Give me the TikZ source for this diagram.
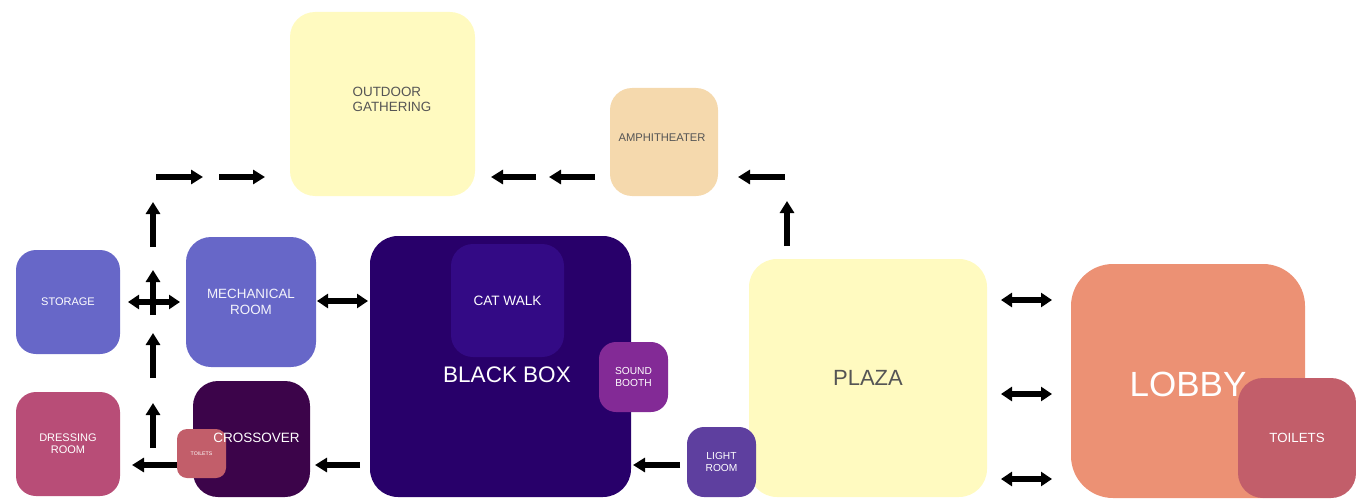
\documentclass[tikz,border=0pt]{standalone}
\usepackage{fontspec}
\setmainfont{Liberation Sans}
\usetikzlibrary{arrows.meta}
\definecolor{cYellow}{HTML}{FFFAC0}
\definecolor{cAmph}{HTML}{F5D9AD}
\definecolor{cMech}{HTML}{6767C8}
\definecolor{cDress}{HTML}{B84D77}
\definecolor{cCross}{HTML}{3C044A}
\definecolor{cToil}{HTML}{C25E6A}
\definecolor{cBlack}{HTML}{28006A}
\definecolor{cCat}{HTML}{330A85}
\definecolor{cSound}{HTML}{832A96}
\definecolor{cLight}{HTML}{5E3F9F}
\definecolor{cLobby}{HTML}{EC9174}
\definecolor{cGrayText}{HTML}{555555}
\newcommand{\fs}[2]{\fontsize{#1}{#2}\selectfont}
\begin{document}
\begin{tikzpicture}[x=1pt,y=-1pt,
  room/.style={rectangle, rounded corners=#1, inner sep=0pt, align=center, text=white, draw=none},
  room/.default=20pt,
  lbl/.style={inner sep=0pt, align=center, text=white},
  blk/.style={line width=5.5pt, -{Triangle[width=14pt,length=12pt]}},
  dbl/.style={line width=5.5pt, {Triangle[width=14pt,length=11pt]}-{Triangle[width=14pt,length=11pt]}}]
\useasboundingbox (0,0) rectangle (1356,500);

% rooms
\node[room=25pt, fill=cYellow, minimum width=185pt, minimum height=184pt] (outdoor) at (382.5,104) {};
\node[lbl, align=left, text=cGrayText, font=\fs{13.4}{15.2}] (outdoortxt) at (392,99.5) {OUTDOOR\\GATHERING};
\node[room=22pt, fill=cAmph, minimum width=108pt, minimum height=108pt] (amph) at (664,142) {};
\node[lbl, text=cGrayText, font=\fs{11.2}{13}] (amphtxt) at (662,138) {AMPHITHEATER};
\node[room=20pt, fill=cMech, minimum width=104pt, minimum height=104pt, font=\fs{11}{13}] (storage) at (68,302) {STORAGE};
\node[room=25pt, fill=cMech, minimum width=130pt, minimum height=130pt, font=\fs{13.4}{16}, text=white!93!cMech] (mech) at (251,302) {MECHANICAL\\ROOM};
\node[room=20pt, fill=cDress, minimum width=104pt, minimum height=104pt, font=\fs{11}{12.2}] (dress) at (68,444) {DRESSING\\ROOM};
\node[room=25pt, fill=cCross, minimum width=117pt, minimum height=116pt] (cross) at (251.5,439) {};
\node[room=10pt, fill=cToil, minimum width=49pt, minimum height=49pt, font=\fs{5.2}{6}] (toilsmall) at (201.5,453.5) {TOILETS};
\node[lbl, font=\fs{13.5}{16}] (crosstxt) at (256.5,438) {CROSSOVER};
\node[room=28pt, fill=cBlack, minimum width=261pt, minimum height=261pt] (bbox) at (500.5,366.5) {};
\node[lbl, font=\fs{22.5}{26}] (bboxtxt) at (507,375) {BLACK BOX};
\node[room=22pt, fill=cCat, minimum width=113pt, minimum height=113pt, font=\fs{13.6}{16}] (cat) at (507.5,300.5) {CAT WALK};
\node[room=17pt, fill=cSound, minimum width=69pt, minimum height=70pt, font=\fs{10.2}{11.6}] (sound) at (633.5,377) {SOUND\\BOOTH};
\node[room=28pt, fill=cYellow, minimum width=238pt, minimum height=238pt, text=cGrayText, font=\fs{22}{26}] (plaza) at (868,378) {PLAZA};
\node[room=17pt, fill=cLight, minimum width=69pt, minimum height=70pt, font=\fs{10.2}{11.6}] (light) at (721.5,462) {LIGHT\\ROOM};
\node[room=42pt, fill=cLobby, minimum width=234pt, minimum height=234pt] (lobby) at (1188,381) {};
\node[lbl, font=\fs{35}{40}] (lobbytxt) at (1188,384) {LOBBY};
\node[room=25pt, fill=cToil, minimum width=118pt, minimum height=120pt, font=\fs{13.3}{16}] (toilbig) at (1297,438) {TOILETS};

% arrow end points
\coordinate (t1s) at (156,177); \coordinate (t1e) at (203,177);
\coordinate (t2s) at (219,177); \coordinate (t2e) at (265,177);
\coordinate (u1s) at (153,247); \coordinate (u1e) at (153,202);
\coordinate (u2s) at (153,315); \coordinate (u2e) at (153,270);
\coordinate (h1s) at (128,302); \coordinate (h1e) at (180,302);
\coordinate (u3s) at (153,378); \coordinate (u3e) at (153,333);
\coordinate (u4s) at (153,448); \coordinate (u4e) at (153,403);
\coordinate (l1e) at (132,465);
\coordinate (l2s) at (360,465); \coordinate (l2e) at (315,465);
\coordinate (m1s) at (317,301); \coordinate (m1e) at (368,301);
\coordinate (l3s) at (680,465); \coordinate (l3e) at (633,465);
\coordinate (a1s) at (536,177); \coordinate (a1e) at (491,177);
\coordinate (a2s) at (595,177); \coordinate (a2e) at (549,177);
\coordinate (a3s) at (785,177); \coordinate (a3e) at (738,177);
\coordinate (p1s) at (787,246); \coordinate (p1e) at (787,201);
\coordinate (r1s) at (1001,300); \coordinate (r1e) at (1052,300);
\coordinate (r2s) at (1001,394); \coordinate (r2e) at (1052,394);
\coordinate (r3s) at (1001,479); \coordinate (r3e) at (1052,479);

% arrows
\draw[blk] (t1s) -- (t1e);
\draw[blk] (t2s) -- (t2e);
\draw[blk] (u1s) -- (u1e);
\draw[blk] (u2s) -- (u2e);
\draw[dbl] (h1s) -- (h1e);
\draw[blk] (u3s) -- (u3e);
\draw[blk] (u4s) -- (u4e);
\draw[blk] (toilsmall.west |- l1e) -- (l1e);
\draw[blk] (l2s) -- (l2e);
\draw[dbl] (m1s) -- (m1e);
\draw[blk] (l3s) -- (l3e);
\draw[blk] (a1s) -- (a1e);
\draw[blk] (a2s) -- (a2e);
\draw[blk] (a3s) -- (a3e);
\draw[blk] (p1s) -- (p1e);
\draw[dbl] (r1s) -- (r1e);
\draw[dbl] (r2s) -- (r2e);
\draw[dbl] (r3s) -- (r3e);
\end{tikzpicture}
\end{document}
